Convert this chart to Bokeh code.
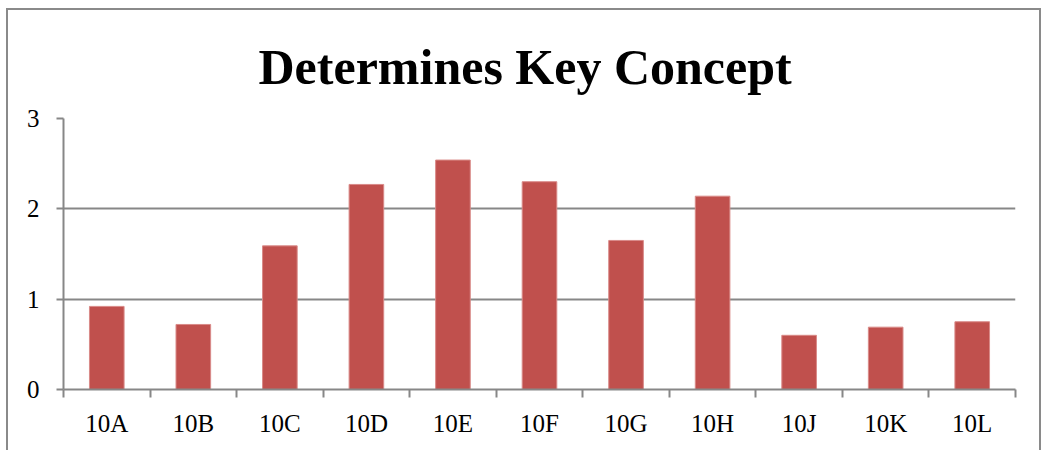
from bokeh.plotting import figure
from bokeh.models import (FactorRange, Range1d, LinearAxis, CategoricalAxis,
                          FixedTicker, Grid, ColumnDataSource)
from bokeh.embed import file_html
from bokeh.resources import INLINE

categories = ["10A", "10B", "10C", "10D", "10E", "10F", "10G", "10H", "10J", "10K", "10L"]
values = [0.92, 0.72, 1.59, 2.27, 2.54, 2.30, 1.65, 2.14, 0.60, 0.69, 0.75]
y_ticks = [0, 1, 2, 3]
title_text = "Determines Key Concept"

FONT = "Liberation Serif"
GRAY = "#878787"
BAR = "#C0504D"

p = figure(width=1035, height=448, output_backend="svg", toolbar_location=None,
           x_range=FactorRange(factors=categories, range_padding=0),
           y_range=Range1d(0, 3),
           x_axis_location=None, y_axis_location=None,
           min_border_left=55, min_border_right=28, min_border_top=108,
           min_border_bottom=69)
p.outline_line_color = None
p.styles = {"border": "2px solid #8a8a8a", "margin-left": "6px", "margin-top": "8px"}
p.xgrid.grid_line_color = None
p.ygrid.grid_line_color = None

p.title.text = title_text
p.title.text_font = FONT
p.title.text_font_style = "bold"
p.title.text_font_size = "50px"
p.title.text_color = "black"
p.title.align = "left"
p.title.offset = 195
p.title.standoff = 48

src = ColumnDataSource(dict(cat=categories, val=values))
p.vbar(x="cat", top="val", width=0.4, source=src,
       fill_color=BAR, line_color="#d98a88", line_width=1)

yaxis = LinearAxis(ticker=FixedTicker(ticks=y_ticks))
yaxis.major_tick_out = 7
yaxis.major_tick_in = 0
yaxis.minor_tick_line_color = None
yaxis.axis_line_color = GRAY
yaxis.axis_line_width = 2
yaxis.major_tick_line_color = GRAY
yaxis.major_tick_line_width = 2
yaxis.major_label_text_font = FONT
yaxis.major_label_text_font_size = "25px"
yaxis.major_label_text_color = "black"
yaxis.major_label_standoff = 17
p.add_layout(yaxis, "left")

p.add_layout(Grid(dimension=1, ticker=yaxis.ticker, grid_line_color=GRAY,
                  grid_line_width=2))

# boundary tick marks between categories (synthetic coordinates 0..N)
xaxis = LinearAxis(ticker=FixedTicker(ticks=list(range(len(categories) + 1))))
xaxis.major_tick_out = 8
xaxis.major_tick_in = 0
xaxis.minor_tick_line_color = None
xaxis.axis_line_color = GRAY
xaxis.axis_line_width = 2
xaxis.major_tick_line_color = GRAY
xaxis.major_tick_line_width = 2
xaxis.major_label_text_font_size = "1px"
xaxis.major_label_text_color = None
xaxis.major_label_standoff = 0
p.add_layout(xaxis, "below")

caxis = CategoricalAxis()
caxis.axis_line_color = None
caxis.major_tick_line_color = None
caxis.minor_tick_line_color = None
caxis.major_label_text_font = FONT
caxis.major_label_text_font_size = "25px"
caxis.major_label_text_color = "black"
caxis.major_label_standoff = 6
p.add_layout(caxis, "below")

open("out.html", "w").write(file_html(p, INLINE))
